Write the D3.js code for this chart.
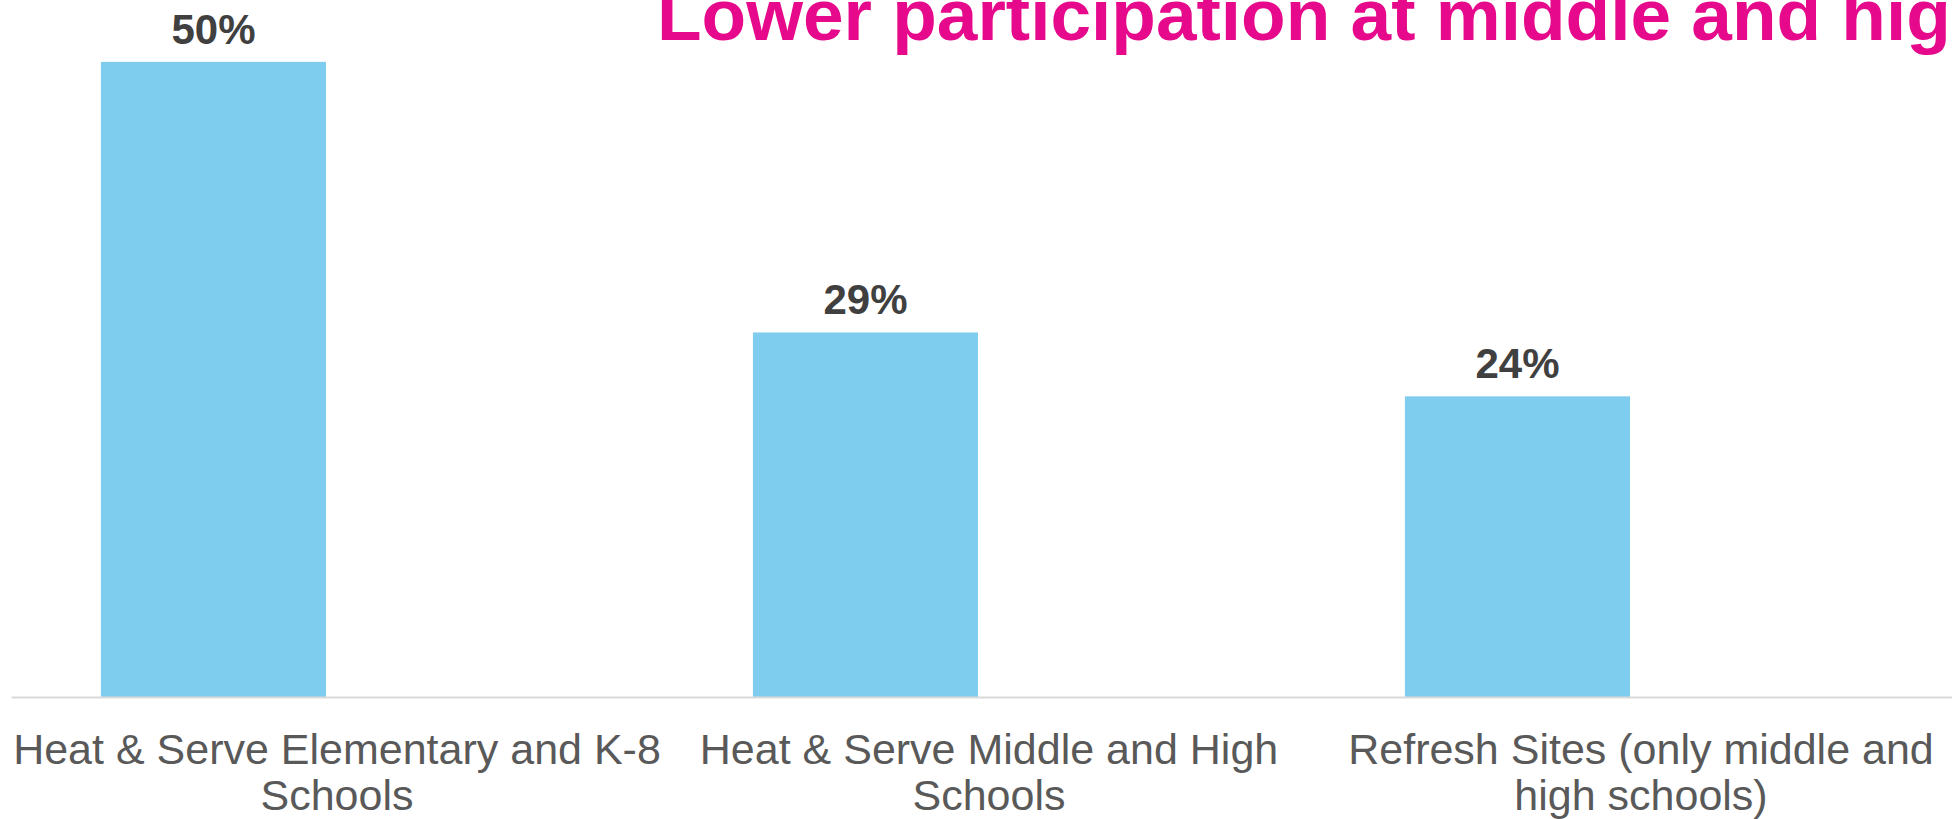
<!DOCTYPE html>
<html>
<head>
<meta charset="utf-8">
<script src="https://cdn.jsdelivr.net/npm/d3@7"></script>
<style>
  body { margin: 0; background: #fff; overflow: hidden; }
  svg { display: block; font-family: "Liberation Sans", Arial, sans-serif; }
</style>
</head>
<body>
<script>
// values
const categories = [
  "Heat & Serve Elementary and K-8 Schools",
  "Heat & Serve Middle and High Schools",
  "Refresh Sites (only middle and high schools)"
];
const participation = [0.507, 0.291, 0.240];
const valueLabels = ["50%", "29%", "24%"];
// the slide's chart keeps a second (empty) slot in every category
const slots = ["participation", "empty"];

const width = 1952;
const height = 819;
const baseline = 697;

function wrap(text, maxWidth) {
  // splits the category names into lines that fit in one band
  text.each(function() {
    const t = d3.select(this).attr("dy", null).attr("y", null);
    const words = t.text().split(/\s+/).reverse();
    let line = [];
    let lineNo = 0;
    let word;
    let tspan = t.text(null).append("tspan").attr("x", 0).attr("y", 67);
    while ((word = words.pop())) {
      line.push(word);
      tspan.text(line.join(" "));
      if (tspan.node().getComputedTextLength() > maxWidth && line.length > 1) {
        line.pop();
        tspan.text(line.join(" "));
        line = [word];
        lineNo++;
        tspan = t.append("tspan").attr("x", 0).attr("y", 67 + lineNo * 46).text(word);
      }
    }
  });
}

function drawChart() {
  const svg = d3.select("body").append("svg")
    .attr("width", width)
    .attr("height", height);

  const x = d3.scaleBand()
    .domain(categories)
    .range([11, 11 + 3 * 652])
    .padding(0);

  const xSlot = d3.scaleBand()
    .domain(slots)
    .range([0, x.bandwidth()])
    .paddingInner(0.089)
    .paddingOuter(0.364);

  const y = d3.scaleLinear()
    .domain([0, 0.55])
    .range([baseline, 8]);

  const data = categories.map((c, i) => ({ name: c, value: participation[i], label: valueLabels[i] }));

  // bars
  svg.selectAll("rect.bar")
    .data(data)
    .enter()
    .append("rect")
    .attr("class", "bar")
    .attr("x", d => x(d.name) + xSlot("participation"))
    .attr("y", d => y(d.value))
    .attr("width", xSlot.bandwidth())
    .attr("height", d => y(0) - y(d.value))
    .attr("fill", "#7FCDEE");

  // value labels above bars
  svg.selectAll("text.value")
    .data(data)
    .enter()
    .append("text")
    .attr("class", "value")
    .attr("x", d => x(d.name) + xSlot("participation") + xSlot.bandwidth() / 2)
    .attr("y", d => y(d.value) - 18)
    .attr("text-anchor", "middle")
    .style("font-size", "42px")
    .style("font-weight", "bold")
    .attr("fill", "#404040")
    .text(d => d.label);

  // category axis
  const gX = svg.append("g")
    .attr("class", "axis axis--x")
    .attr("transform", "translate(0," + baseline + ")")
    .call(d3.axisBottom(x).tickSize(0).tickSizeOuter(0));

  gX.select(".domain")
    .attr("stroke", "#D9D9D9")
    .attr("stroke-width", 2);

  gX.selectAll(".tick text")
    .attr("fill", "#595959")
    .style("font-size", "43px")
    .style("font-family", "'Liberation Sans', Arial, sans-serif")
    .call(wrap, x.bandwidth() - 4);

  // title (runs off the right edge on the slide)
  svg.append("text")
    .attr("x", 657)
    .attr("y", 40)
    .style("font-size", "73px")
    .style("font-weight", "bold")
    .attr("fill", "#E6098B")
    .text("Lower participation at middle and high schools");
}

drawChart();
</script>
</body>
</html>
